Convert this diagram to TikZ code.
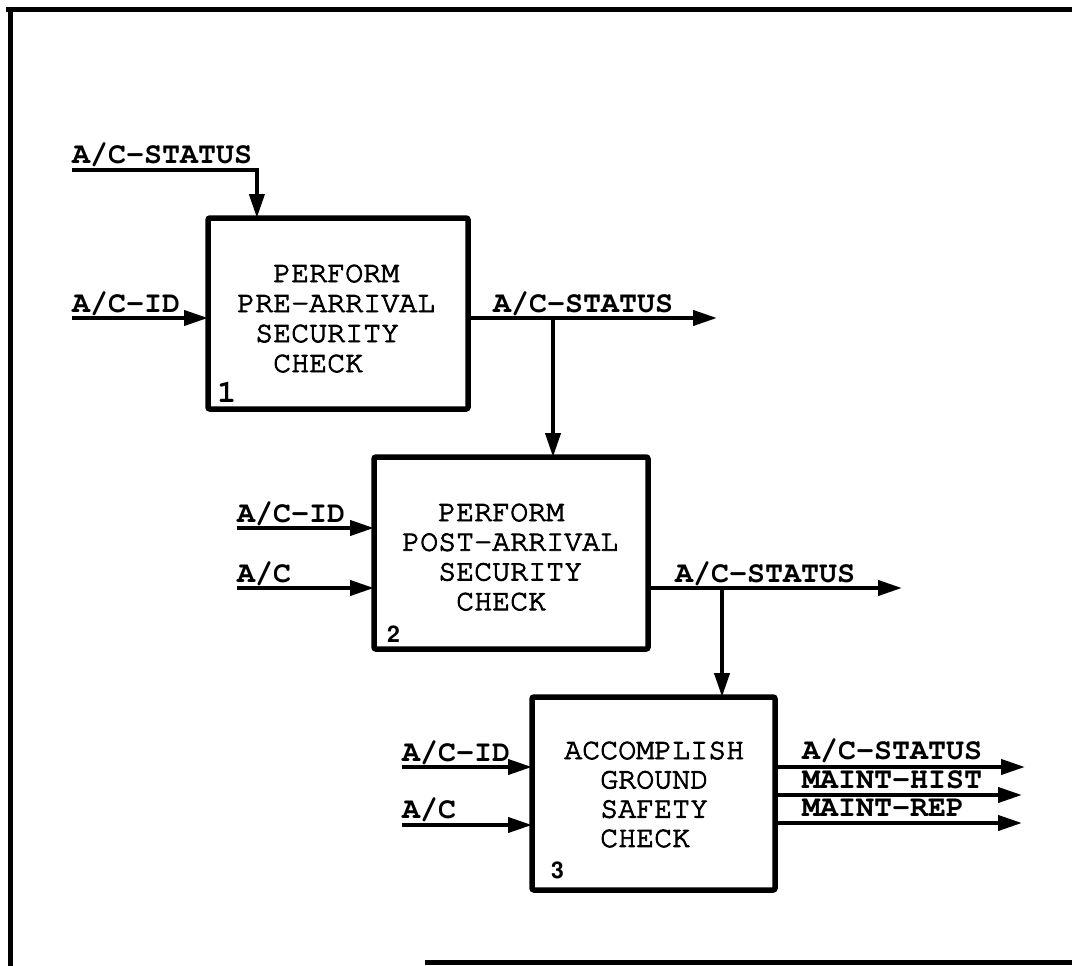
\documentclass[tikz,border=0pt]{standalone}
\usepackage[T1]{fontenc}
\usetikzlibrary{arrows.meta,calc}
\newcommand{\cour}{\fontfamily{pcr}\fontsize{30}{30}\selectfont}
\newcommand{\helvnum}{\fontfamily{phv}\fontseries{b}\fontsize{23}{23}\selectfont}
\newcommand{\heavytext}[1]{\special{pdf:literal direct 2 Tr 0.9 w}#1\special{pdf:literal direct 0 Tr}}
\tikzset{
  procbox/.style={draw, line width=5.5pt, rounded corners=2pt, inner sep=0pt, outer sep=0pt},
  boxtext/.style={anchor=base west, inner sep=0pt, font=\cour},
  lab/.style={anchor=base west, inner sep=0pt, font=\cour\bfseries},
  boxnum/.style={anchor=base west, inner sep=0pt},
  conn/.style={line width=4pt, line join=miter, -{Triangle[length=24pt,width=15pt]}},
  frameline/.style={line width=5pt, line cap=rect}
}
\begin{document}
\begin{tikzpicture}[x=1pt,y=-1pt]
\useasboundingbox (0,0) rectangle (1072,966);
% frame
\draw[frameline] (8,10) -- (1072,10);
\draw[frameline] (10,10) -- (10,966);
\draw[frameline] (427,962) -- (1072,962);

% boxes
\node[procbox, minimum width=260pt, minimum height=191pt] (box1) at (338,313.5) {};
\node[procbox, minimum width=274pt, minimum height=192pt] (box2) at (511,553) {};
\node[procbox, minimum width=243pt, minimum height=193pt] (box3) at (653.5,793.5) {};

% box texts
\foreach \t [count=\i] in {\phantom{XX}PERFORM, PRE-ARRIVAL, \phantom{X}SECURITY, \phantom{XX}CHECK}
  \node[boxtext] (t1-\i) at (237, {282+30*(\i-1)}) {\heavytext{\t}};
\foreach \t [count=\i] in {\phantom{XX}PERFORM, POST-ARRIVAL, \phantom{XX}SECURITY, \phantom{XXX}CHECK}
  \node[boxtext] (t2-\i) at (402, {521+29.7*(\i-1)}) {\heavytext{\t}};
\foreach \t [count=\i] in {ACCOMPLISH, \phantom{XX}GROUND, \phantom{XX}SAFETY, \phantom{XX}CHECK}
  \node[boxtext] (t3-\i) at (564, {759+29.3*(\i-1)}) {\heavytext{\t}};

% box numbers
\node[boxnum, font=\fontfamily{pcr}\fontseries{b}\fontsize{32}{32}\selectfont] (n1) at (217,402) {1};
\node[boxnum, font=\helvnum] (n2) at (387,642) {2};
\node[boxnum, font=\helvnum] (n3) at (551,878) {3};

% box 1 connectors
\coordinate (s1) at (72,170);
\draw[conn] (s1) -| ($(box1.north west)!0.188!(box1.north east)$);
\node[lab] (ls1) at (72,163) {A/C-STATUS};
\coordinate (id1) at (72,318);
\draw[conn] (id1) -- (id1 -| box1.west);
\node[lab] (lid1) at (72,312) {A/C-ID};
\coordinate (o1) at (717,318);
\draw[conn] (box1.east |- o1) -- (o1);
\node[lab] (lo1) at (493,312) {A/C-STATUS};
\coordinate (b1) at (553,318);
\draw[conn] (b1) -- (b1 |- box2.north);

% box 2 connectors
\coordinate (id2) at (237,528);
\draw[conn] (id2) -- (id2 -| box2.west);
\node[lab] (lid2) at (237,522) {A/C-ID};
\coordinate (ac2) at (237,588);
\draw[conn] (ac2) -- (ac2 -| box2.west);
\node[lab] (lac2) at (237,582) {A/C};
\coordinate (o2) at (902,588);
\draw[conn] (box2.east |- o2) -- (o2);
\node[lab] (lo2) at (675,582) {A/C-STATUS};
\coordinate (b2) at (722,588);
\draw[conn] (b2) -- (b2 |- box3.north);

% box 3 connectors
\coordinate (id3) at (402,767);
\draw[conn] (id3) -- (id3 -| box3.west);
\node[lab] (lid3) at (402,761) {A/C-ID};
\coordinate (ac3) at (402,825);
\draw[conn] (ac3) -- (ac3 -| box3.west);
\node[lab] (lac3) at (402,818) {A/C};
\coordinate (o3a) at (1025,767);
\coordinate (o3b) at (1022,795);
\coordinate (o3c) at (1022,823);
\draw[conn] (box3.east |- o3a) -- (o3a);
\draw[conn] (box3.east |- o3b) -- (o3b);
\draw[conn] (box3.east |- o3c) -- (o3c);
\node[lab] (lo3a) at (802,759) {A/C-STATUS};
\node[lab] (lo3b) at (802,788) {MAINT-HIST};
\node[lab] (lo3c) at (802,816) {MAINT-REP};
\end{tikzpicture}
\end{document}
